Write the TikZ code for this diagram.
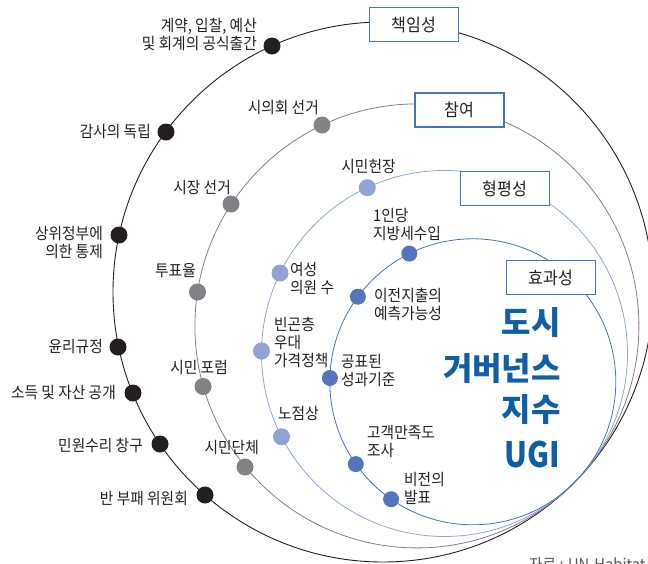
\documentclass[tikz,border=0pt]{standalone}
\usepackage{fontspec}
\setmainfont{Noto Sans CJK KR}
\newfontfamily\lblfont{Noto Sans CJK KR}[FakeStretch=0.92]
\newfontfamily\ugifont{Noto Sans CJK KR}[FakeStretch=0.86]
\usetikzlibrary{calc}
\definecolor{ink}{HTML}{231F20}
\definecolor{grayc}{HTML}{808080}
\definecolor{graydot}{HTML}{808285}
\definecolor{lblue}{HTML}{8EA5D8}
\definecolor{lbluedot}{HTML}{8FA3D4}
\definecolor{mblue}{HTML}{4A6EC0}
\definecolor{mbluedot}{HTML}{5574BE}
\definecolor{boxc}{HTML}{4A72C4}
\definecolor{titlec}{HTML}{105EA8}
\definecolor{srcc}{HTML}{555555}
\begin{document}
\begin{tikzpicture}[x=1pt,y=-1pt,
  lbl/.style={inner sep=0pt, text=ink, font=\lblfont\fontsize{16}{18}\selectfont},
  dotk/.style={circle, fill=ink, minimum size=17pt, inner sep=0pt},
  dotg/.style={circle, fill=graydot, minimum size=17pt, inner sep=0pt},
  dotl/.style={circle, fill=lbluedot, minimum size=17pt, inner sep=0pt},
  dotb/.style={circle, fill=mbluedot, minimum size=16pt, inner sep=0pt},
  boxlbl/.style={draw=boxc, line width=1.2pt, fill=white, minimum width=89pt, minimum height=34pt, inner sep=0pt, font=\lblfont\fontsize{17.5}{19}\selectfont, text=ink},
  ttl/.style={inner sep=0pt, text=titlec, font=\fontsize{32}{36}\selectfont\bfseries, anchor=base east}]
\useasboundingbox (0,0) rectangle (648,563);
% circle centres (internally tangent)
\coordinate (O) at (383,292);
\coordinate (G) at (416.9,325.9);
\coordinate (L) at (444.5,353.5);
\coordinate (B) at (472.8,381.8);
\draw[ink, line width=0.9pt] (O) circle[radius=270pt];
\draw[grayc, line width=0.8pt] (G) circle[radius=222pt];
\draw[lblue, line width=0.8pt] (L) circle[radius=183pt];
\draw[mblue, line width=0.8pt] (B) circle[radius=143pt];
% boxes
\node[boxlbl] (acc) at (414,24.5) {책임성};
\node[boxlbl] (par) at (459.5,110) {참여};
\node[boxlbl] (equ) at (505,188.5) {형평성};
\node[boxlbl] (eff) at (551,277.5) {효과성};
% outer dots and labels
\node[dotk] (k1) at (272,46) {};
\node[dotk] (k2) at (166,132) {};
\node[dotk] (k3) at (119,235) {};
\node[dotk] (k4) at (118,347) {};
\node[dotk] (k5) at (133,393) {};
\node[dotk] (k6) at (160,444) {};
\node[dotk] (k7) at (205,495) {};
\node[lbl, anchor=east, align=right] (lk1) at (257,34) {계약, 입찰, 예산\\및 회계의 공식출간};
\node[lbl, anchor=east] (lk2) at (151,132) {감사의 독립};
\node[lbl, anchor=east, align=right] (lk3) at (103,243) {상위정부에\\의한 통제};
\node[lbl, anchor=east] (lk4) at (103,347) {윤리규정};
\node[lbl, anchor=east] (lk5) at (116,393) {소득 및 자산 공개};
\node[lbl, anchor=east] (lk6) at (143,445) {민원수리 창구};
\node[lbl, anchor=east] (lk7) at (188,498) {반 부패 위원회};
% gray dots and labels
\node[dotg] (g1) at (322,125) {};
\node[dotg] (g2) at (231,204) {};
\node[dotg] (g3) at (197.5,292) {};
\node[dotg] (g4) at (203,386.5) {};
\node[dotg] (g5) at (245,467) {};
\node[lbl, anchor=east] (lg1) at (319,108) {시의회 선거};
\node[lbl, anchor=east] (lg2) at (231,188) {시장 선거};
\node[lbl, anchor=east] (lg3) at (196,271) {투표율};
\node[lbl, anchor=east] (lg4) at (228,368) {시민 포럼};
\node[lbl, anchor=east] (lg5) at (259,448) {시민단체};
% light blue dots and labels
\node[dotl] (l1) at (367.3,187.7) {};
\node[dotl] (l2) at (280,273) {};
\node[dotl] (l3) at (261.5,351) {};
\node[dotl] (l4) at (281.5,436.7) {};
\node[lbl] (ll1) at (368.5,167) {시민헌장};
\node[lbl, anchor=west, align=left] (ll2) at (290,279) {여성\\의원 수};
\node[lbl, anchor=west, align=left] (ll3) at (274,342) {빈곤층\\우대\\가격정책};
\node[lbl, anchor=west] (ll4) at (278,413) {노점상};
% blue dots and labels
\node[dotb] (b1) at (409.3,253.6) {};
\node[dotb] (b2) at (357.9,296.7) {};
\node[dotb] (b3) at (329.9,378) {};
\node[dotb] (b4) at (355.8,464.1) {};
\node[dotb] (b5) at (391.1,499.2) {};
\node[lbl, anchor=west, align=left] (lb1) at (373,225) {1인당\\지방세수입};
\node[lbl, anchor=west, align=left] (lb2) at (374,304) {이전지출의\\예측가능성};
\node[lbl, anchor=west, align=left] (lb3) at (341,371) {공표된\\성과기준};
\node[lbl, anchor=west, align=left] (lb4) at (367,441.5) {고객만족도\\조사};
\node[lbl, anchor=west, align=left] (lb5) at (404,488) {비전의\\발표};
% title
\node[ttl] (t1) at (561,334) {도시};
\node[ttl] (t2) at (561,380) {거버넌스};
\node[ttl] (t3) at (561,421) {지수};
\node[ttl, font=\ugifont\fontsize{35}{38}\selectfont\bfseries] (t4) at (560,467) {UGI};
% source (cut off at bottom, as in the reference)
\node[inner sep=0pt, anchor=north west, text=srcc, font=\lblfont\fontsize{16}{18}\selectfont] (src) at (529,557) {자료 : UN-Habitat};
\end{tikzpicture}
\end{document}
